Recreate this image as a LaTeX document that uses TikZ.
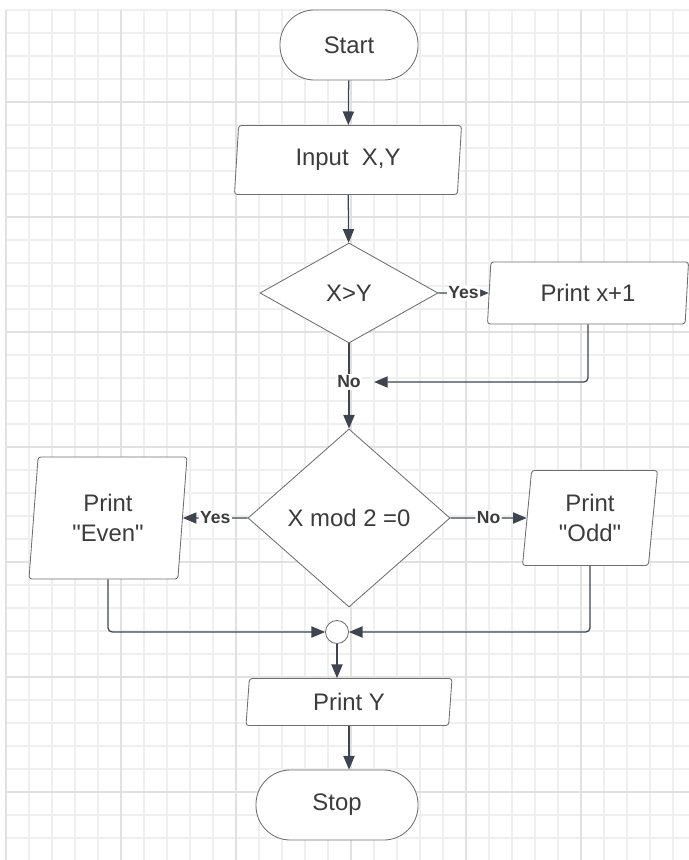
\documentclass[tikz,border=0pt]{standalone}
\usepackage{fontspec}
\setmainfont{Liberation Sans}
\usepackage{tikz}
\definecolor{gridfine}{HTML}{EFEFEF}
\definecolor{gridbold}{HTML}{E1E1E1}
\definecolor{edgegray}{HTML}{6E6E6E}
\definecolor{linkgray}{HTML}{3E4450}
\definecolor{inkgray}{HTML}{3C3C3C}
\usetikzlibrary{arrows.meta, shapes.geometric, positioning}
\tikzset{>={Triangle[length=3.4mm,width=2.8mm]}}
\tikzset{
  box/.style={draw=edgegray, line width=0.6pt, text=inkgray, fill=white,
    font=\fontsize{17}{21}\selectfont, align=center, inner sep=0pt},
  terminal/.style={box, rectangle, rounded corners=0.86cm, minimum height=1.75cm},
  iobox/.style={box, trapezium, trapezium left angle=79, trapezium right angle=101,
    trapezium stretches body, rounded corners=2pt},
  decision/.style={box, diamond},
  joinpt/.style={draw=edgegray, line width=0.6pt, circle, fill=white, minimum size=0.575cm, inner sep=0pt},
  flow/.style={->, draw=linkgray, line width=0.9pt, rounded corners=3pt},
  link/.style={draw=linkgray, line width=0.9pt},
  lab/.style={font=\bfseries\fontsize{12.5}{14}\selectfont, text=inkgray, fill=white, inner sep=1pt}
}

\begin{document}
\begin{tikzpicture}[x=0.025cm, y=-0.025cm]
        \useasboundingbox (0,0) rectangle (689,860);
        % Draw the grid
        \foreach \gx in {6,29,...,689} \draw[gridfine, line width=0.8pt] (\gx,10) -- (\gx,860);
        \foreach \gy in {10,33,...,860} \draw[gridfine, line width=0.8pt] (6,\gy) -- (689,\gy);
        \foreach \gx in {6,121,...,689} \draw[gridbold, line width=0.9pt] (\gx,10) -- (\gx,860);
        \foreach \gy in {102,217,...,860} \draw[gridbold, line width=0.9pt] (6,\gy) -- (689,\gy);

        % Main column
        \node[terminal, minimum width=3.45cm] (start) at (349,45) {Start};
        \node[iobox, minimum width=5.675cm, minimum height=1.725cm] (input) at (348,160) {Input~~X,Y};
        \node[decision, minimum width=4.45cm, minimum height=2.5cm] (cmpxy) at (349,293) {X>Y};
        \node[iobox, minimum width=5.025cm, minimum height=1.55cm] (printinc) at (588,293) {Print x+1};
        \node[lab, outer xsep=0.3cm, outer ysep=0pt] (nolabel) at (349,382) {No};
        \node[decision, minimum width=5.05cm, minimum height=4.45cm] (parity) at (349,518) {X mod 2 =0};

        % Branches
        \node[iobox, minimum width=3.95cm, minimum height=3.05cm] (printeven) at (108,518) {Print\\\textquotedbl Even\textquotedbl};
        \node[iobox, minimum width=3.375cm, minimum height=2.375cm] (printodd) at (590,518) {Print\\\textquotedbl Odd\textquotedbl};

        % Merge and end
        \node[joinpt] (joint) at (337,632) {};
        \node[iobox, minimum width=5.15cm, minimum height=1.175cm] (printy) at (349,702) {Print Y};
        \node[terminal, minimum width=4.05cm] (stop) at (337,805) {Stop};

        % Connectors
        \draw[flow] (start) -- (input);
        \draw[flow] (input) -- (cmpxy);
        \draw[flow] (cmpxy.east) -- node[lab]{Yes} (printinc);
        \draw[link] (cmpxy.south) -- (nolabel.north);
        \draw[flow] (printinc.south) |- (nolabel.east);
        \draw[flow] (nolabel.south) -- (parity.north);
        \draw[flow] (parity.west) -- node[lab]{Yes} (printeven);
        \draw[flow] (parity.east) -- node[lab]{No} (printodd);
        \draw[flow] (printeven.south) |- (joint.west);
        \draw[flow] (printodd.south) |- (joint.east);
        \draw[flow] (joint.south) -- (joint.south |- printy.north);
        \draw[flow] (printy.south) -- (printy.south |- stop.north);
    \end{tikzpicture}
\end{document}
